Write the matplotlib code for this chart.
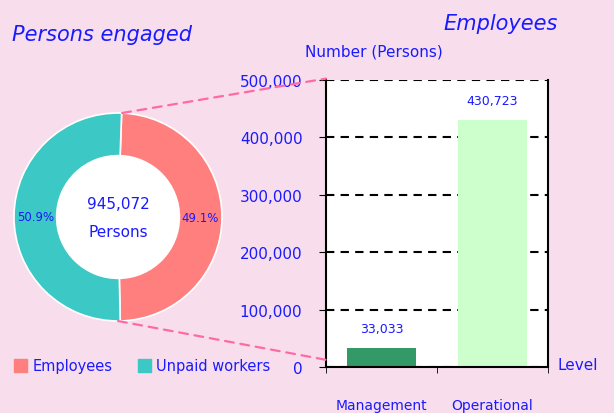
import matplotlib
matplotlib.use('Agg')
import matplotlib.pyplot as plt
from matplotlib.patches import Patch, Circle, ConnectionPatch
from matplotlib.ticker import FuncFormatter

# data
pie_labels = ['Employees', 'Unpaid workers']
pie_shares = [49.1, 50.9]
total_persons = '945,072'
levels = ['Management', 'Operational']
employees = [33033, 430723]

blue = '#1a1aff'
bg = '#f8deec'
pie_colors = ['#ff7f7f', '#3cc8c4']
bar_colors = ['#339966', '#ccffcc']

fig = plt.figure(figsize=(6.14, 4.14), dpi=100, facecolor=bg)

# donut
W, H = 614, 414
ax_pie = fig.add_axes([14 / W, 92 / H, 208 / W, 208 / H])
ax_pie.set_facecolor(bg)
wedges, _, pcts = ax_pie.pie(pie_shares, colors=pie_colors, startangle=88,
                             counterclock=False, radius=1,
                             autopct=lambda p: f'{p:.1f}%', pctdistance=0.79,
                             wedgeprops=dict(width=0.41, edgecolor='white', linewidth=1.2),
                             textprops=dict(color=blue, fontsize=8.5))
ax_pie.add_patch(Circle((0, 0), 0.59, color='white', zorder=0))
ax_pie.set_xlim(-1, 1)
ax_pie.set_ylim(-1, 1)
ax_pie.text(0, 0.13, total_persons, ha='center', va='center', color=blue, fontsize=11)
ax_pie.text(0, -0.14, 'Persons', ha='center', va='center', color=blue, fontsize=11)

# bars
ax = fig.add_axes([326 / W, 46 / H, 222 / W, 287 / H])
x = [0.5, 1.5]
ax.bar(x, employees, width=0.63, color=bar_colors, zorder=2)
for xi, v in zip(x, employees):
    ax.text(xi, v + 22000, f'{v:,}', ha='center', va='bottom', color=blue, fontsize=9)
ax.set_xlim(0, 2)
ax.set_ylim(0, 500000)
ax.set_yticks(range(0, 500001, 100000))
ax.yaxis.set_major_formatter(FuncFormatter(lambda v, p: f'{int(v):,}'))
ax.grid(axis='y', color='black', linestyle=(0, (4, 3)), linewidth=1.5, zorder=1)
ax.spines['top'].set_visible(False)
for s in ['left', 'right', 'bottom']:
    ax.spines[s].set_linewidth(1.5)
ax.tick_params(axis='y', colors='black', labelcolor=blue, labelsize=11, length=5, pad=12)
ax.set_xticks(x)
ax.set_xticklabels(levels)
ax.set_xticks([0, 1, 2], minor=True)
ax.tick_params(axis='x', which='major', length=0, pad=22, labelcolor=blue, labelsize=10)
ax.tick_params(axis='x', which='minor', length=4, direction='out')
ax.text(-0.095, 1.1, 'Number (Persons)', transform=ax.transAxes, ha='left', va='center',
        color=blue, fontsize=11)
ax.text(1.045, 0.01, 'Level', transform=ax.transAxes, ha='left', va='center',
        color=blue, fontsize=11)

# pink connectors
for pa, pb in [((0.04, 1.0), (0, 1.005)), ((0.0, -1.0), (0, 0.025))]:
    con = ConnectionPatch(xyA=pa, coordsA=ax_pie.transData, xyB=pb, coordsB=ax.transAxes,
                          color='#ff6aa6', linestyle=(0, (4, 3)), linewidth=1.6)
    fig.add_artist(con)

fig.text(12 / W, 1 - 35 / H, 'Persons engaged', style='italic', color=blue, fontsize=15,
         ha='left', va='center')
fig.text(501 / W, 1 - 24 / H, 'Employees', style='italic', color=blue, fontsize=15,
         ha='center', va='center')

handles = [Patch(color=c) for c in pie_colors]
fig.legend(handles, pie_labels, loc='center left', bbox_to_anchor=(0.002, 1 - 367 / H),
           ncol=2, frameon=False, handlelength=0.9, handleheight=0.9, handletextpad=0.35,
           columnspacing=1.75, labelcolor=blue, fontsize=10.5)

fig.savefig('out.png', dpi=100, facecolor=bg)
